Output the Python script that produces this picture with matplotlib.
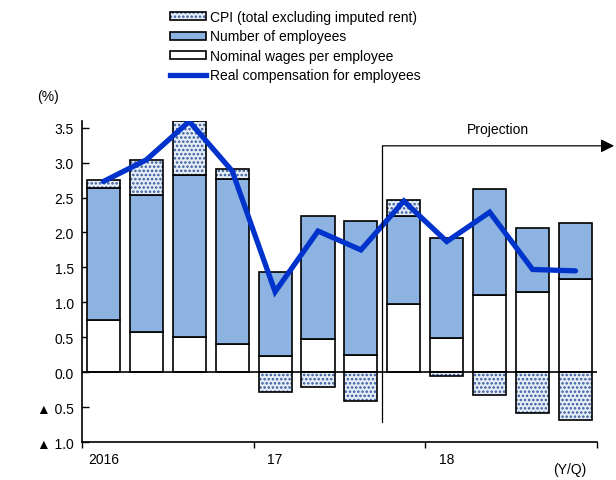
import matplotlib
matplotlib.use("Agg")
import matplotlib.pyplot as plt
import numpy as np
from matplotlib.patches import Patch
from matplotlib.lines import Line2D
from matplotlib.legend_handler import HandlerTuple

plt.rcParams['font.family'] = ['Liberation Sans', 'DejaVu Sans']
plt.rcParams['font.size'] = 10
plt.rcParams['hatch.linewidth'] = 1.2

# 2016/Q1 .. 2018/Q4, y/y % chg. contributions
quarters = ['2016Q1', '2016Q2', '2016Q3', '2016Q4',
            '2017Q1', '2017Q2', '2017Q3', '2017Q4',
            '2018Q1', '2018Q2', '2018Q3', '2018Q4']
wages = [0.75, 0.58, 0.50, 0.41, 0.23, 0.47, 0.245, 0.97, 0.49, 1.10, 1.15, 1.34]
employees = [1.89, 1.95, 2.32, 2.35, 1.21, 1.76, 1.915, 1.27, 1.43, 1.52, 0.91, 0.80]
cpi = [0.11, 0.51, 0.77, 0.15, -0.29, -0.21, -0.41, 0.22, -0.06, -0.33, -0.58, -0.68]
real_comp = [2.73, 3.04, 3.59, 2.88, 1.15, 2.02, 1.75, 2.45, 1.87, 2.29, 1.47, 1.45]
year_labels = ['2016', '17', '18']
yticks = [-1.0, -0.5, 0.0, 0.5, 1.0, 1.5, 2.0, 2.5, 3.0, 3.5]
ytick_labels = ['▲ 1.0', '▲ 0.5', '0.0', '0.5', '1.0', '1.5', '2.0', '2.5', '3.0', '3.5']

emp_color = '#8db3e2'
cpi_face = '#e6edf6'
cpi_dot = '#34599c'
line_color = '#0033cc'

fig = plt.figure(figsize=(6.16, 4.81), dpi=100)
ax = fig.add_axes([0.1331, 0.079, 0.836, 0.668])

x = np.arange(len(quarters))
w = 0.77
wages = np.array(wages)
employees = np.array(employees)
cpi = np.array(cpi)

ax.bar(x, wages, w, color='white', edgecolor='black', lw=1.2, zorder=2)
ax.bar(x, employees, w, bottom=wages, color=emp_color, edgecolor='black', lw=1.2, zorder=2)
cpi_bottom = np.where(cpi > 0, wages + employees, 0)
ax.bar(x, cpi, w, bottom=cpi_bottom, color=cpi_face, edgecolor=cpi_dot, lw=0,
       hatch='....', zorder=2)
ax.bar(x, cpi, w, bottom=cpi_bottom, color='none', edgecolor='black', lw=1.2, zorder=3)

ax.plot(x, real_comp, color=line_color, lw=3.8, solid_capstyle='round',
        solid_joinstyle='miter', zorder=5)

ax.axhline(0, color='black', lw=1.2, zorder=4)

ax.set_xlim(-0.5, 11.5)
ax.set_ylim(-1.0, 3.6)
ax.set_yticks(yticks)
ax.set_yticklabels(ytick_labels)
ax.tick_params(axis='y', direction='in', length=5, width=1, labelsize=10, pad=6)
ax.set_xticks([-0.5, 3.5, 7.5, 11.5])
ax.set_xticklabels([])
ax.tick_params(axis='x', which='major', direction='out', length=4, width=1)
for xi, lab in zip([0, 4, 8], year_labels):
    ax.text(xi, -1.14, lab, ha='center', va='top', fontsize=10)
for s in ['top', 'right']:
    ax.spines[s].set_visible(False)
for s in ['left', 'bottom']:
    ax.spines[s].set_linewidth(1.2)

# projection marker
ax.plot([6.5, 6.5], [-0.72, 3.24], color='black', lw=0.9, zorder=6)
ax.annotate('', xy=(11.9, 3.24), xytext=(6.5, 3.24), annotation_clip=False,
            arrowprops=dict(arrowstyle='-|>', color='black', lw=0.9,
                            mutation_scale=20, shrinkA=0, shrinkB=0))
ax.text(9.2, 3.48, 'Projection', ha='center', va='center', fontsize=10)

fig.text(0.078, 0.798, '(%)', ha='center', va='center', fontsize=10)
fig.text(0.925, 0.023, '(Y/Q)', ha='center', va='center', fontsize=10)

h_cpi = (Patch(facecolor=cpi_face, edgecolor=cpi_dot, lw=0, hatch='....'),
         Patch(facecolor='none', edgecolor='black', lw=1.2))
h_emp = Patch(facecolor=emp_color, edgecolor='black', lw=1.2)
h_wag = Patch(facecolor='white', edgecolor='black', lw=1.2)
h_line = Line2D([], [], color=line_color, lw=3.8)
fig.legend([h_cpi, h_emp, h_wag, h_line],
           ['CPI (total excluding imputed rent)', 'Number of employees',
            'Nominal wages per employee', 'Real compensation for employees'],
           handler_map={tuple: HandlerTuple(ndivide=1, pad=0)},
           loc='upper left', bbox_to_anchor=(0.262, 0.994), frameon=False,
           fontsize=10, handlelength=2.6, handleheight=0.5, handletextpad=0.3,
           labelspacing=0.38, borderaxespad=0.2)

fig.savefig('out.png', dpi=100)
